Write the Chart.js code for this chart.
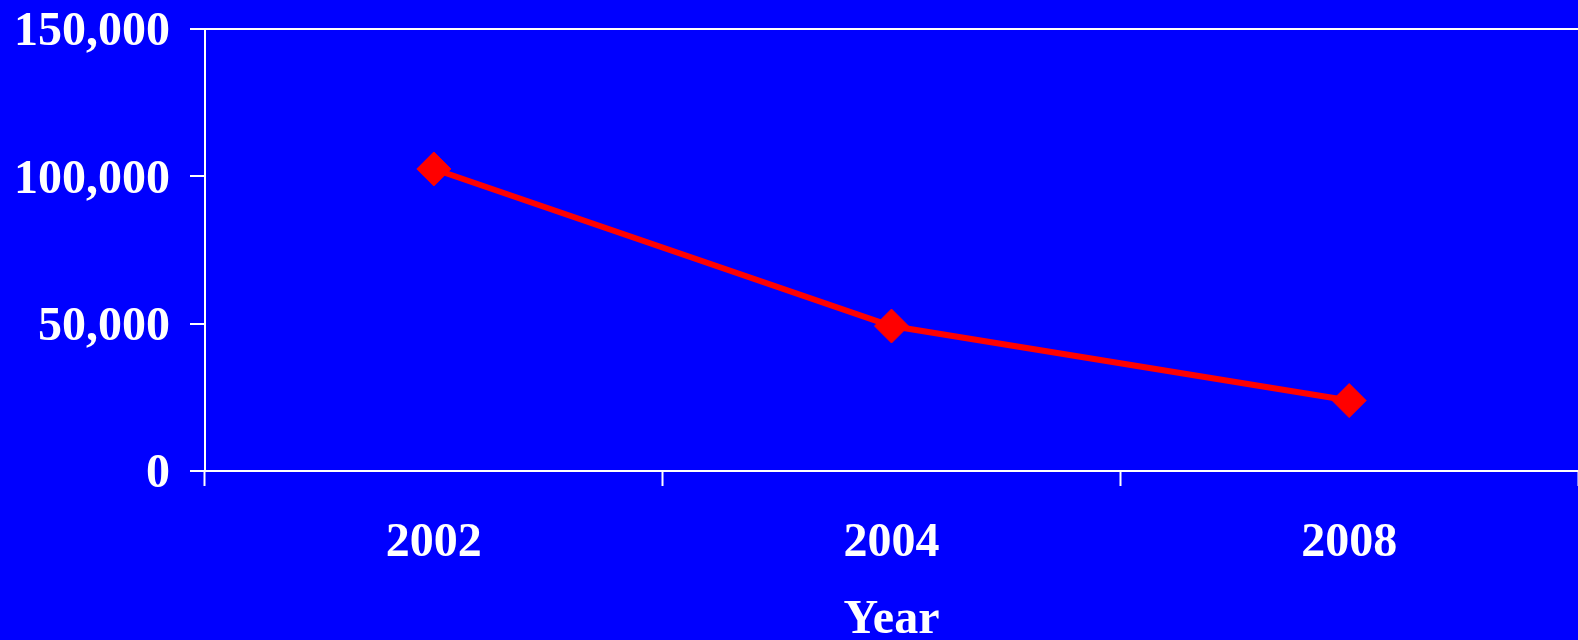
<!DOCTYPE html>
<html>
<head>
<meta charset="utf-8">
<script src="https://cdn.jsdelivr.net/npm/chart.js@4/dist/chart.umd.min.js"></script>
<style>
  html, body { margin: 0; padding: 0; background: #0000ff; }
  #wrap { width: 1578px; height: 640px; position: relative; background: #0000ff; }
</style>
</head>
<body>
<div id="wrap"><canvas id="chart"></canvas></div>
<script>
// Survey years and the counts recorded in each
const years = ['2002', '2004', '2008'];
const counts = [102500, 49200, 23900];
// Value axis range and step
const yMin = 0;
const yMax = 150000;
const yStep = 50000;
const xTitle = 'Year';

const WHITE = '#ffffff';
const RED = '#ff0000';
const FONT = { family: '"Liberation Serif", "Times New Roman", serif', size: 48, weight: 'bold' };

new Chart(document.getElementById('chart'), {
  type: 'line',
  data: {
    labels: years,
    datasets: [{
      data: counts,
      borderColor: RED,
      backgroundColor: RED,
      borderWidth: 6,
      tension: 0,
      clip: false,
      pointStyle: 'rectRot',
      pointRadius: 17,
      pointBorderWidth: 1,
      pointBorderColor: RED,
      pointBackgroundColor: RED
    }]
  },
  options: {
    responsive: true,
    maintainAspectRatio: false,
    animation: false,
    layout: { autoPadding: false, padding: { top: 29, right: 0, bottom: 0, left: 0 } },
    plugins: { legend: { display: false }, tooltip: { enabled: false } },
    scales: {
      x: {
        type: 'category',
        offset: true,
        afterFit(scale) {
          scale.height = 169;
          scale.paddingLeft = 0;
          scale.paddingRight = 0;
        },
        grid: {
          offset: true,
          drawOnChartArea: false,
          drawTicks: true,
          tickLength: 15,
          tickWidth: 2,
          tickColor: WHITE,
          color: WHITE
        },
        border: { display: true, color: WHITE, width: 2 },
        ticks: { color: WHITE, font: FONT, padding: 29, maxRotation: 0 },
        title: {
          display: true,
          text: xTitle,
          color: WHITE,
          font: Object.assign({}, FONT, { lineHeight: 1 }),
          padding: { top: 0, bottom: -5 }
        }
      },
      y: {
        min: yMin,
        max: yMax,
        afterFit(scale) {
          scale.width = 205;
          scale.paddingTop = 0;
          scale.paddingBottom = 0;
        },
        grid: {
          drawOnChartArea: true,
          color: (c) => (c.tick && c.tick.value === yMax ? WHITE : 'rgba(0,0,0,0)'),
          lineWidth: 2,
          tickLength: 15,
          tickWidth: 2,
          tickColor: WHITE
        },
        border: { display: true, color: WHITE, width: 2 },
        ticks: {
          stepSize: yStep,
          color: WHITE,
          font: FONT,
          padding: 20,
          labelOffset: 4,
          callback: (v) => v.toLocaleString('en-US')
        }
      }
    }
  }
});
</script>
</body>
</html>
